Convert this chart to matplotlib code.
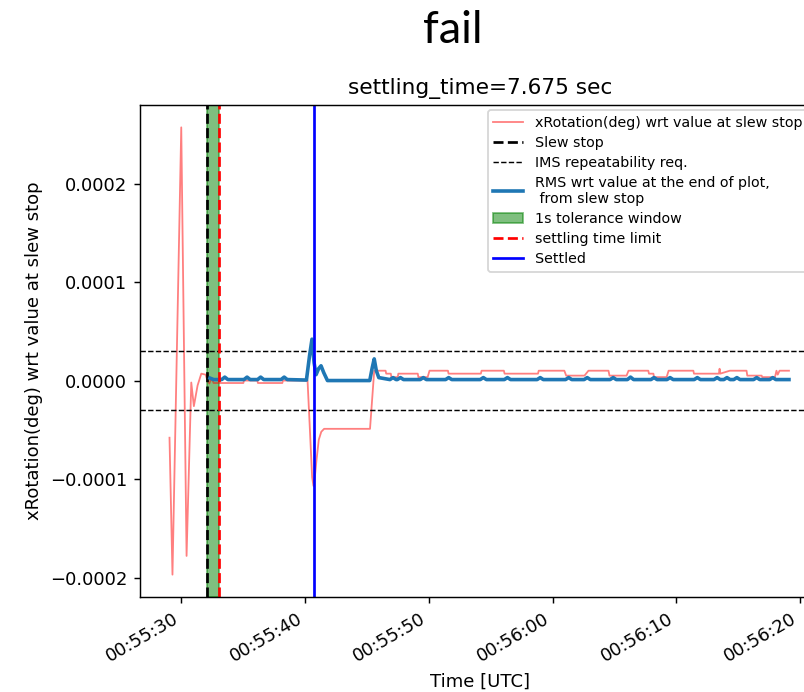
import numpy as np
import matplotlib
matplotlib.use("Agg")
import matplotlib.pyplot as plt
import matplotlib.dates as mdates

# ---------------- data (time: seconds after 00:55:00 UTC, values: 1e-4 deg) -------------
red_t = [29.03, 29.27, 29.98, 30.41, 30.79, 31.00, 31.30, 31.60, 31.95, 32.10, 32.25, 32.40, 32.55,
         32.60, 35.00, 35.05, 36.13, 36.18, 38.15, 38.20, 40.19, 40.40, 40.56, 40.67, 40.78, 40.92,
         41.10, 41.30, 41.53, 45.24, 45.58, 46.50, 46.55, 46.92, 46.97, 47.48, 47.53, 49.10, 49.15,
         49.90, 50.05, 51.54, 51.59, 54.20, 54.26, 56.06, 56.12, 58.82, 58.88, 60.95, 61.10, 62.58,
         62.90, 64.52, 64.60, 65.98, 66.14, 67.74, 67.79, 68.15, 68.20, 69.22, 69.38, 71.38, 71.43,
         73.10, 73.45, 73.50, 73.55, 74.33, 75.68, 75.74, 76.90, 76.95, 77.98, 78.10, 78.20, 78.35,
         79.11]
red_v = [-0.58, -1.97, 2.57, -1.78, -0.02, -0.26, -0.05, 0.07, 0.06, 0.0, -0.03, 0.02, -0.01,
         -0.025, -0.025, 0.0, 0.0, -0.025, -0.025, 0.0, 0.0, -0.55, -0.98, -1.07, -0.98, -0.80,
         -0.60, -0.52, -0.49, -0.49, 0.10, 0.10, 0.07, 0.07, 0.035, 0.035, 0.07, 0.07, 0.035,
         0.035, 0.10, 0.10, 0.07, 0.07, 0.10, 0.10, 0.07, 0.07, 0.10, 0.10, 0.05, 0.05,
         0.10, 0.10, 0.05, 0.05, 0.10, 0.10, 0.07, 0.07, 0.035, 0.035, 0.10, 0.10, 0.07,
         0.07, 0.07, 0.12, 0.07, 0.10, 0.10, 0.05, 0.05, 0.035, 0.035, 0.10, 0.06, 0.10,
         0.10]

rms_t = [32.30, 32.60, 33.25, 33.50, 33.75, 35.05, 35.30, 35.55, 36.15, 36.40, 36.65, 38.05, 38.30,
         38.55, 40.10, 40.35, 40.55, 40.72, 40.88, 41.08, 41.28, 41.50, 41.80, 45.22, 45.42, 45.58,
         45.75, 45.95, 46.85, 47.10, 47.35, 47.45, 47.70, 47.95, 49.30, 49.55, 49.80, 51.35, 51.60,
         51.85, 54.15, 54.40, 54.65, 56.10, 56.35, 56.60, 58.75, 59.00, 59.25, 61.05, 61.30, 61.55,
         62.55, 62.80, 63.05, 64.65, 64.90, 65.15, 66.05, 66.30, 66.55, 67.95, 68.20, 68.45, 69.25,
         69.50, 69.75, 71.45, 71.70, 71.95, 73.05, 73.30, 73.55, 73.85, 74.10, 74.35, 74.65, 74.90,
         75.15, 76.25, 76.50, 76.75, 77.55, 77.80, 78.05, 79.11]
rms_v = [0.025, 0.01, 0.01, 0.035, 0.01, 0.01, 0.035, 0.01, 0.01, 0.035, 0.01, 0.01, 0.035,
         0.01, 0.005, 0.25, 0.42, 0.18, 0.06, 0.12, 0.15, 0.08, 0.0, 0.0, 0.13, 0.22,
         0.10, 0.03, 0.01, 0.03, 0.01, 0.01, 0.03, 0.01, 0.01, 0.03, 0.01, 0.01, 0.03,
         0.01, 0.01, 0.03, 0.01, 0.01, 0.03, 0.01, 0.01, 0.03, 0.01, 0.01, 0.03, 0.01,
         0.01, 0.03, 0.01, 0.01, 0.03, 0.01, 0.01, 0.035, 0.01, 0.01, 0.03, 0.01, 0.01,
         0.03, 0.01, 0.01, 0.03, 0.01, 0.01, 0.03, 0.01, 0.01, 0.03, 0.01, 0.01, 0.03,
         0.01, 0.01, 0.03, 0.01, 0.01, 0.03, 0.01, 0.01]

slew_stop = 32.05          # s
window_end = 33.05         # s (1 s tolerance)
settled = 40.725           # s  (window_end + 7.675)
ims_req = 0.3              # 1e-4 deg
x_range = [26.645, 81.70]  # s
x_ticks = [30, 40, 50, 60, 70, 80]
SCALE = 1e-4

title = "settling_time=7.675 sec"
suptitle = "fail"

# ---------------- plotting ------------------
base = np.datetime64("2023-01-01T00:55:00")


def to_dt(secs):
    return base + np.round(np.asarray(secs, dtype=float) * 1000).astype("timedelta64[ms]")


DPI = 130
W, H = 804, 692
fig = plt.figure(figsize=(W / DPI, H / DPI), dpi=DPI)
ax = fig.add_axes([140 / W, 95 / H, 681 / W, 492 / H])

h_red, = ax.plot(to_dt(red_t), np.array(red_v) * SCALE, color="red", lw=1, alpha=0.5,
                 label="xRotation(deg) wrt value at slew stop")
h_slew = ax.axvline(to_dt(slew_stop), color="k", ls="--", lw=1.5, label="Slew stop")
h_ims = ax.axhline(ims_req * SCALE, color="k", ls="--", lw=0.8, label="IMS repeatability req.")
ax.axhline(-ims_req * SCALE, color="k", ls="--", lw=0.8)
h_rms, = ax.plot(to_dt(rms_t), np.array(rms_v) * SCALE, color="C0", lw=2,
                 label="RMS wrt value at the end of plot,\n from slew stop")
h_win = ax.axvspan(to_dt(slew_stop), to_dt(window_end), color="green", alpha=0.5,
                   label="1s tolerance window")
h_lim = ax.axvline(to_dt(window_end), color="red", ls="--", lw=1.5, label="settling time limit")
h_set = ax.axvline(to_dt(settled), color="b", lw=1.5, label="Settled")

ax.set_xlim(to_dt(x_range[0]), to_dt(x_range[1]))
ax.set_xticks(to_dt(x_ticks))
ax.xaxis.set_major_formatter(mdates.DateFormatter("%H:%M:%S"))
plt.setp(ax.get_xticklabels(), rotation=30, ha="right")

ax.set_xlabel("Time [UTC]")
ax.set_ylabel("xRotation(deg) wrt value at slew stop")
ax.set_title(title)

ax.legend(handles=[h_red, h_slew, h_ims, h_rms, h_win, h_lim, h_set],
          loc="upper right", fontsize=7.9, labelspacing=0.42, handlelength=2.1,
          bbox_to_anchor=(808 / W, 1 - 110 / H), bbox_transform=fig.transFigure,
          borderaxespad=0)

fig.text(453 / W, 1 - 10 / H, suptitle, ha="center", va="top", fontsize=25,
         family=["Lato", "DejaVu Sans"])

fig.savefig("out.png", dpi=DPI)
